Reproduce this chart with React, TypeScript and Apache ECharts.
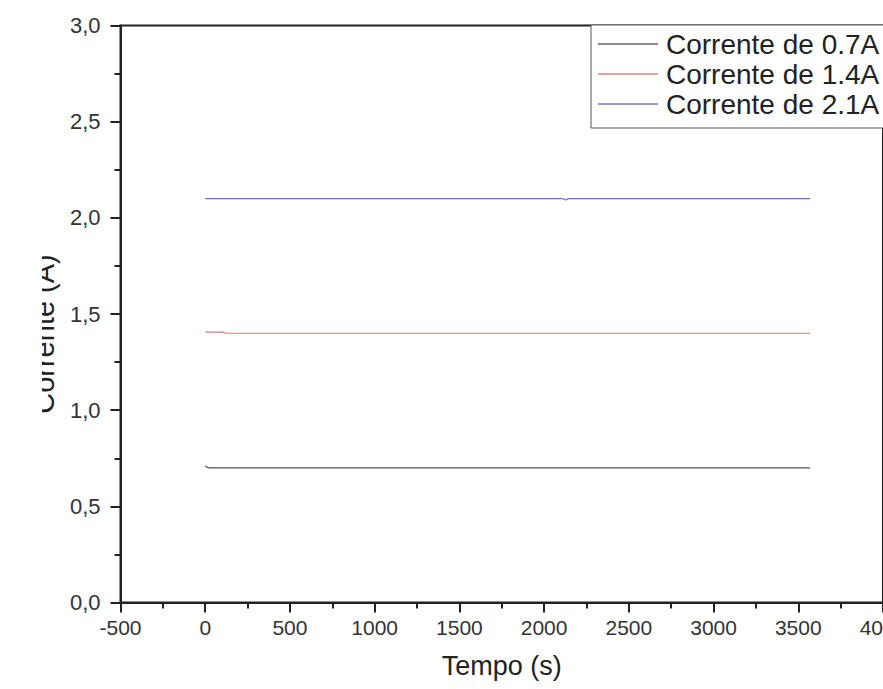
import React, { useEffect, useRef } from "react";
import * as echarts from "echarts";

// Tempo (s) and Corrente (A) readings for each series
const tempo07 = [0, 20, 3570];
const corrente07 = [0.71, 0.7, 0.7];
const tempo14 = [0, 105, 120, 3570];
const corrente14 = [1.406, 1.406, 1.4, 1.4];
const tempo21 = [0, 2110, 2128, 2145, 3570];
const corrente21 = [2.1, 2.1, 2.093, 2.1, 2.1];

const seriesNames = ["Corrente de 0.7A", "Corrente de 1.4A", "Corrente de 2.1A"];
const seriesColors = ["#555555", "#e07a7a", "#6f6fc6"];
const xTicks = { min: -500, max: 4000, interval: 500 };
const yTicks = { min: 0, max: 3, interval: 0.5 };

const FONT = "'Liberation Sans', Arial, sans-serif";

const pair = (xs: number[], ys: number[]) => xs.map((x, i) => [x, ys[i]]);

export default function App() {
  const ref = useRef<HTMLDivElement>(null);
  useEffect(() => {
    if (!ref.current) return;
    const chart = echarts.init(ref.current, undefined, { renderer: "svg" });
    const datasets = [pair(tempo07, corrente07), pair(tempo14, corrente14), pair(tempo21, corrente21)];
    chart.setOption({
      animation: false,
      backgroundColor: "#ffffff",
      grid: {
        left: 120.5,
        top: 25.5,
        right: 0,
        bottom: 86.5,
        show: true,
        borderColor: "#222",
        borderWidth: 2,
        backgroundColor: "transparent",
        containLabel: false,
        outerBoundsMode: "none",
      },
      xAxis: {
        type: "value",
        min: xTicks.min,
        max: xTicks.max,
        interval: xTicks.interval,
        name: "Tempo (s)",
        nameLocation: "middle",
        nameGap: 50,
        nameTextStyle: { fontFamily: FONT, fontSize: 27, color: "#222" },
        axisLine: { show: true, onZero: false, lineStyle: { color: "#222", width: 2 } },
        axisTick: { show: true, inside: false, length: 10, lineStyle: { color: "#222", width: 2 } },
        minorTick: { show: true, splitNumber: 2, length: 6, lineStyle: { color: "#222", width: 2 } },
        axisLabel: {
          fontFamily: FONT,
          fontSize: 21,
          color: "#333",
          margin: 14,
          hideOverlap: false,
          formatter: (v: number) => String(v),
        },
        splitLine: { show: false },
      },
      yAxis: {
        type: "value",
        min: yTicks.min,
        max: yTicks.max,
        interval: yTicks.interval,
        axisLine: { show: true, onZero: false, lineStyle: { color: "#222", width: 2 } },
        axisTick: { show: true, inside: false, length: 10, lineStyle: { color: "#222", width: 2 } },
        minorTick: { show: true, splitNumber: 2, length: 6, lineStyle: { color: "#222", width: 2 } },
        axisLabel: {
          fontFamily: FONT,
          fontSize: 22,
          color: "#333",
          margin: 20,
          formatter: (v: number) => v.toFixed(1).replace(".", ","),
        },
        splitLine: { show: false },
      },
      legend: {
        show: true,
        orient: "vertical",
        align: "left",
        left: 591,
        top: 25,
        padding: [4, 12, 9, 7],
        itemGap: 0,
        itemWidth: 60,
        itemHeight: 2,
        icon: "rect",
        borderColor: "#555",
        borderWidth: 1,
        backgroundColor: "#fff",
        textStyle: { fontFamily: FONT, fontSize: 28, lineHeight: 30, color: "#222", padding: [0, 0, 0, 3] },
        data: seriesNames.map((n, i) => ({
          name: n,
          itemStyle: { color: ["#8a8a8a", "#eda0a0", "#9a9ad8"][i] },
        })),
      },
      series: datasets.map((d, i) => ({
        name: seriesNames[i],
        type: "line",
        data: d,
        showSymbol: false,
        symbol: "none",
        color: seriesColors[i],
        lineStyle: { color: seriesColors[i], width: 1.2 },
      })),
      graphic: [
        {
          type: "text",
          x: 44,
          y: 334,
          rotation: Math.PI / 2,
          style: {
            text: "Corrente (A)",
            font: `29px ${FONT}`,
            fill: "#222",
            textAlign: "center",
            textVerticalAlign: "middle",
          },
        },
        {
          type: "rect",
          z: 100,
          shape: { x: 0, y: 0, width: 42, height: 689 },
          style: { fill: "#ffffff" },
        },
      ],
    });
    return () => chart.dispose();
  }, []);
  return (
    <div
      ref={ref}
      style={{ position: "fixed", left: 0, top: 0, width: 883, height: 689, overflow: "hidden" }}
    />
  );
}
